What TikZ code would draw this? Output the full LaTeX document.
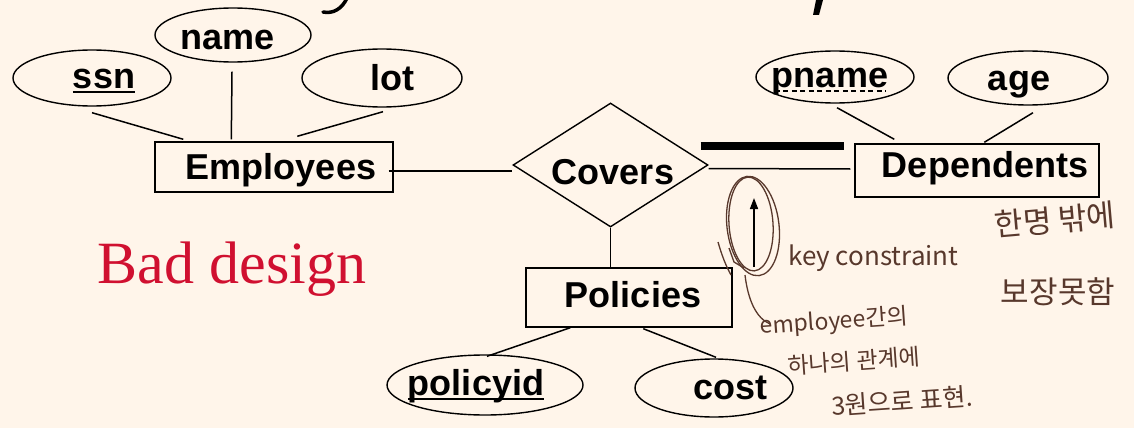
\documentclass[tikz,border=0pt]{standalone}
\usepackage{fontspec}
\setmainfont{Liberation Sans}
\newfontfamily\badfont{Liberation Serif}
\newfontfamily\krfont{Noto Sans CJK KR}
\usetikzlibrary{shapes.geometric,calc,arrows.meta}
\definecolor{bg}{RGB}{255,245,234}
\definecolor{badred}{RGB}{208,16,48}
\definecolor{pen}{RGB}{88,56,44}
\tikzset{
  lbl/.style={font=\fontsize{36}{36}\selectfont\bfseries, anchor=base, inner sep=0pt},
  attr/.style={draw, ellipse, line width=1.4pt, inner sep=0pt},
  ent/.style={draw, rectangle, line width=1.4pt, inner sep=0pt},
  rel/.style={draw, diamond, line width=1.4pt, inner sep=0pt},
  conn/.style={line width=1.5pt},
  hand/.style={pen, font=\krfont\fontsize{23}{23}\selectfont, inner sep=0pt},
}
\begin{document}
\begin{tikzpicture}[x=1pt,y=-1pt]
\fill[bg] (0,0) rectangle (1134,428);
\useasboundingbox (0,0) rectangle (1134,428);

% title fragments (clipped)
\draw[line width=3.5pt, line cap=round] (347,-2) .. controls (342,9) and (333,14) .. (323,12);
\fill (816,0) -- (823,0) -- (819,15) -- (813,15) -- cycle;

% entities and relationship
\node[ent, minimum width=238pt, minimum height=50pt] (emp) at (274,167) {};
\node[ent, minimum width=206pt, minimum height=59pt] (pol) at (629,297.5) {};
\node[ent, minimum width=244pt, minimum height=53pt] (dep) at (977,170.5) {};
\node[rel, minimum width=195pt, minimum height=124pt] (cov) at (610.5,165) {};

% attributes
\node[attr, minimum width=158pt, minimum height=56pt] (ssn) at (92,78) {};
\node[attr, minimum width=156pt, minimum height=54pt] (name) at (233,35) {};
\node[attr, minimum width=160pt, minimum height=58pt] (lot) at (382,78) {};
\node[attr, minimum width=158pt, minimum height=52pt] (pname) at (835,77) {};
\node[attr, minimum width=160pt, minimum height=54pt] (age) at (1028,78) {};
\node[attr, minimum width=196pt, minimum height=60pt] (policyid) at (485,385) {};
\node[attr, minimum width=158pt, minimum height=58pt] (cost) at (714,388) {};

% labels
\node[lbl] (tssn) at (104,88) {ssn};
\node[lbl] (tname) at (228,50) {name};
\node[lbl] (tlot) at (392,90) {lot};
\node[lbl] (temp) at (281,179) {Employees};
\node[lbl] (tcov) at (613,184) {Covers};
\node[lbl] (tpol) at (633,307) {Policies};
\node[lbl] (tdep) at (985,177) {Dependents};
\node[lbl] (tpname) at (830,87) {pname};
\node[lbl] (tage) at (1019,90) {age};
\node[lbl] (tpolicyid) at (476,395) {policyid};
\node[lbl] (tcost) at (730,399) {cost};

% underlines
\draw[line width=1.5pt] ($(tssn.base west)+(0,4)$) -- ($(tssn.base east)+(0,4)$);
\draw[line width=1.5pt] ($(tpolicyid.base west)+(0,4)$) -- ($(tpolicyid.base east)+(0,4)$);
\draw[line width=1.5pt, dash pattern=on 5pt off 3.5pt] ($(tpname.base west)+(3,4)$) -- ($(tpname.base east)+(-2,4)$);

% connectors
\draw[conn] ($(ssn.south)+(0,6)$) -- ($(emp.north west)+(29,-2)$);
\draw[conn] ($(name.south)+(-1,9)$) -- ($(emp.north west)+(77,-2)$);
\draw[conn] ($(lot.south)+(1,4)$) -- ($(emp.north west)+(143,-5)$);
\draw[conn] ($(emp.east)+(-5,4)$) -- ($(cov.west)+(0,6)$);
\draw[conn] (cov.south) -- (cov.south |- pol.north);
\draw[conn] ($(cov.east)+(0,3.5)$) -- ($(dep.west)+(-4,-1.5)$);
\draw[line width=8pt] ($(cov.east)+(-8,-19)$) -- ($(dep.west)+(-10,-24.5)$);
\draw[conn] ($(pname.south)+(2,4)$) -- ($(dep.north west)+(40,-4)$);
\draw[conn] ($(age.south)+(5,7)$) -- ($(dep.north west)+(130,-1)$);
\draw[conn] ($(pol.south west)+(45,0)$) -- ($(policyid.north)+(2,2)$);
\draw[conn] ($(pol.south west)+(118,1)$) -- ($(cost.north)+(2,-1)$);

% Bad design
\node[badred, font=\badfont\fontsize{60}{60}\selectfont, anchor=base, inner sep=0pt] (bad) at (232,283) {Bad design};

% handwritten annotations
\coordinate (arrbot) at (754,267);
\coordinate (arrtop) at (754,198);
\draw[line width=1.6pt, -{Triangle[length=11pt,width=8pt]}] (arrbot) -- (arrtop);
\draw[pen, line width=1.3pt, rotate around={7:(753,226)}] (753,226) ellipse [x radius=26pt, y radius=50pt];
\draw[pen, line width=1.3pt, rotate around={4:(751,224)}] (751,224) ellipse [x radius=22pt, y radius=47pt];
\draw[pen, line width=1.3pt] (729,248) -- (734,262) -- (744,268);
\draw[pen, line width=1.3pt] (718,242) .. controls (722,256) and (726,266) .. (731,275);
\draw[pen, line width=1.3pt] (745,275) .. controls (748,300) and (756,318) .. (770,324);

\node[hand, anchor=west, font=\krfont\fontsize{26}{26}\selectfont] (key) at (788,258) {key constraint};
\node[hand, rotate=4] (k1) at (834,322) {employee간의};
\node[hand, rotate=4] (k2) at (854,361) {하나의 관계에};
\node[hand, rotate=4, font=\krfont\fontsize{25}{25}\selectfont] (k3) at (902,401) {3원으로 표현.};
\node[hand, rotate=5, font=\krfont\fontsize{31}{31}\selectfont] (k4) at (1055,220) {한명 밖에};
\node[hand, font=\krfont\fontsize{31}{31}\selectfont] (k5) at (1058,292) {보장못함};
\end{tikzpicture}
\end{document}
